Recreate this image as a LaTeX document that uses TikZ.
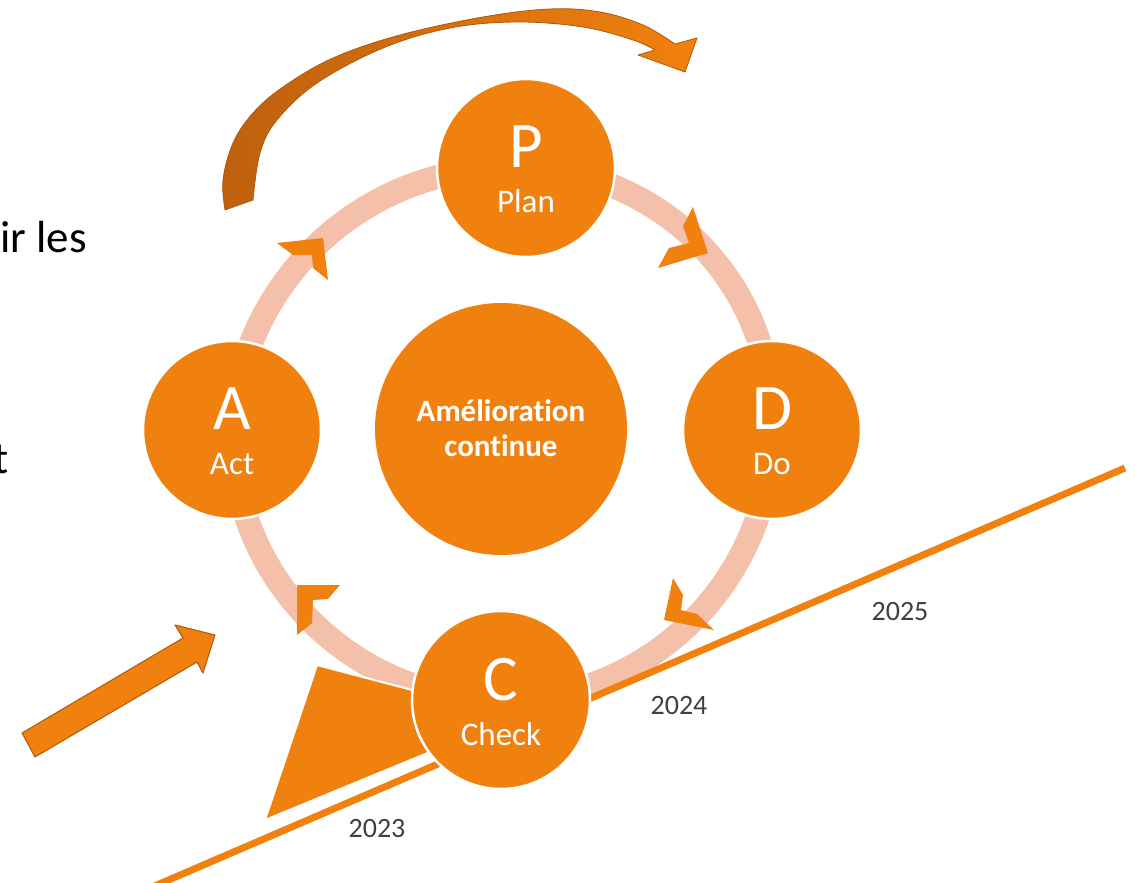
\documentclass[tikz,border=0pt]{standalone}
\usepackage{fontspec}
\setmainfont{Carlito}[Ligatures=NoCommon]
\usetikzlibrary{backgrounds}
\definecolor{orng}{RGB}{241,129,14}
\definecolor{ringc}{RGB}{245,192,170}
\definecolor{brn}{RGB}{190,96,14}
\definecolor{edgec}{RGB}{176,88,10}
\definecolor{yeargray}{RGB}{64,64,64}
\begin{document}
\begin{tikzpicture}[x=1pt,y=-1pt,
  stage/.style={circle,fill=orng,draw=white,line width=2.5pt,minimum size=178pt,inner sep=0pt},
  hub/.style={circle,fill=orng,minimum size=252pt,inner sep=0pt},
  letter/.style={text=white,anchor=base,inner sep=0pt,font=\fontsize{65}{65}\selectfont},
  sub/.style={text=white,anchor=base,inner sep=0pt,font=\fontsize{33}{33}\selectfont},
  hubtext/.style={text=white,anchor=base,inner sep=0pt,font=\bfseries\fontsize{31}{31}\selectfont},
  ringarc/.style={draw=ringc,line width=24pt},
  ringhead/.style={fill=orng},
  year/.style={text=yeargray,inner sep=0pt,font=\fontsize{28}{28}\selectfont},
  timeline/.style={draw=orng,line width=7pt},
  body/.style={text=black,anchor=base east,inner sep=0pt,font=\fontsize{45}{45}\selectfont},
  blockarrow/.style={fill=orng,draw=edgec,line width=1pt,line join=round}
]
\useasboundingbox (0,0) rectangle (1135,883);

% stage circles
\node[stage] (P) at (526,168) {};
\node[stage] (D) at (772,430) {};
\node[stage] (C) at (501,700) {};
\node[stage] (A) at (232,430) {};
\node[hub] (H) at (501,429) {};

\node[letter] (Pl) at (526,167) {P};
\node[sub] (Ps) at (526,212) {Plan};
\node[letter] (Dl) at (772,429) {D};
\node[sub] (Ds) at (772,474) {Do};
\node[letter] (Cl) at (501,700) {C};
\node[sub] (Cs) at (501,745) {Check};
\node[letter] (Al) at (232,429) {A};
\node[sub] (As) at (232,474) {Act};
\node[hubtext] (H1) at (501,421) {Amélioration};
\node[hubtext] (H2) at (501,456) {continue};

\coordinate (T0) at (150,888);
\coordinate (T1) at (1125,468);

\begin{pgfonlayer}{background}
  \draw[ringarc] (P.center) to[bend left=45] (D.center);
  \draw[ringarc] (D.center) to[bend left=45] (C.center);
  \draw[ringarc] (C.center) to[bend left=45] (A.center);
  \draw[ringarc] (A.center) to[bend left=45] (P.center);
  % arrow heads on the ring
  \fill[ringhead] (693,207) -- (708,253) -- (658,268) -- (669,248) -- (689,243) -- (683,226) -- cycle;
  \fill[ringhead] (673,578) -- (683,595) -- (681,610) -- (697,614) -- (714,630) -- (664,620) -- cycle;
  \fill[ringhead] (297,585) -- (340,585) -- (328,599) -- (313,600) -- (312,623) -- (297,635) -- cycle;
  \fill[ringhead] (277,243) -- (323,238) -- (328,280) -- (313,268) -- (312,255) -- (293,255) -- cycle;
  % triangle and time line
  \draw[timeline] (T0) -- (T1);
  \fill[orng,draw=white,line width=2pt] (317,665) -- (265,820) -- (515,717) -- cycle;
\end{pgfonlayer}

% years
\node[year] (y23) at (377,829) {2023};
\node[year] (y24) at (679,706) {2024};
\node[year] (y25) at (900,612) {2025};

% partial body text
\node[body] (b1) at (87,252) {ir les};
\node[body] (b2) at (9,473) {t};

% left block arrow
\draw[blockarrow] (22,733) -- (183,638) -- (175,625) -- (215,635) -- (203,673) -- (197,662) -- (35,757) -- cycle;

% top curved arrow
\shade[left color=brn,right color=orng,draw=edgec,line width=0.8pt,line join=round]
  plot[smooth,tension=0.6] coordinates {(225,210) (223,180) (233,143) (253,113) (283,87) (333,58) (400,35) (483,17) (550,9) (600,12) (643,25) (675,44)}
  -- (697,38) -- (685,72) -- (638,55)
  -- plot[smooth,tension=0.6] coordinates {(655,50) (633,40) (583,27) (517,22) (450,28) (383,48) (317,83) (277,120) (260,153) (253,200)}
  -- cycle;
\end{tikzpicture}
\end{document}
